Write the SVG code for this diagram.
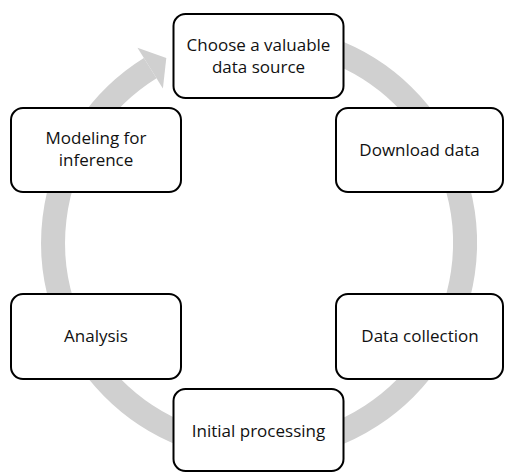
<svg xmlns="http://www.w3.org/2000/svg" width="505" height="472" viewBox="0 0 505 472">
  <style>
    .box { fill: #ffffff; stroke: #000000; stroke-width: 2; }
    .lbl { font-family: "Open Sans", "Liberation Sans", sans-serif; font-size: 17px; fill: #111111; text-anchor: middle; }
    .ring { fill: none; stroke: #d0d0d0; stroke-width: 24; }
    .head { fill: #d0d0d0; }
  </style>
  <rect width="505" height="472" fill="#ffffff"/>
  <g id="connectors">
    <path class="ring" d="M 329.5 49.4 A 206 206 0 1 1 150.2 68.1"/>
    <polygon class="head" points="137.5,47.7 166.3,58.1 162.9,88.5"/>
  </g>
  <g id="node-choose">
    <rect class="box" x="173.5" y="14" width="170" height="84" rx="12"/>
    <text class="lbl" x="258.5" y="51">Choose a valuable</text>
    <text class="lbl" x="258.5" y="72.5">data source</text>
  </g>
  <g id="node-download">
    <rect class="box" x="336" y="108" width="167" height="84" rx="12"/>
    <text class="lbl" x="419.5" y="156">Download data</text>
  </g>
  <g id="node-collection">
    <rect class="box" x="336" y="294" width="167" height="85" rx="12"/>
    <text class="lbl" x="420" y="342">Data collection</text>
  </g>
  <g id="node-initial">
    <rect class="box" x="173.5" y="389" width="170" height="82" rx="12"/>
    <text class="lbl" x="258.5" y="437">Initial processing</text>
  </g>
  <g id="node-analysis">
    <rect class="box" x="11" y="294" width="170" height="85" rx="12"/>
    <text class="lbl" x="96" y="342">Analysis</text>
  </g>
  <g id="node-modeling">
    <rect class="box" x="11" y="108" width="170" height="84" rx="12"/>
    <text class="lbl" x="96" y="144">Modeling for</text>
    <text class="lbl" x="96" y="165.5">inference</text>
  </g>
</svg>
